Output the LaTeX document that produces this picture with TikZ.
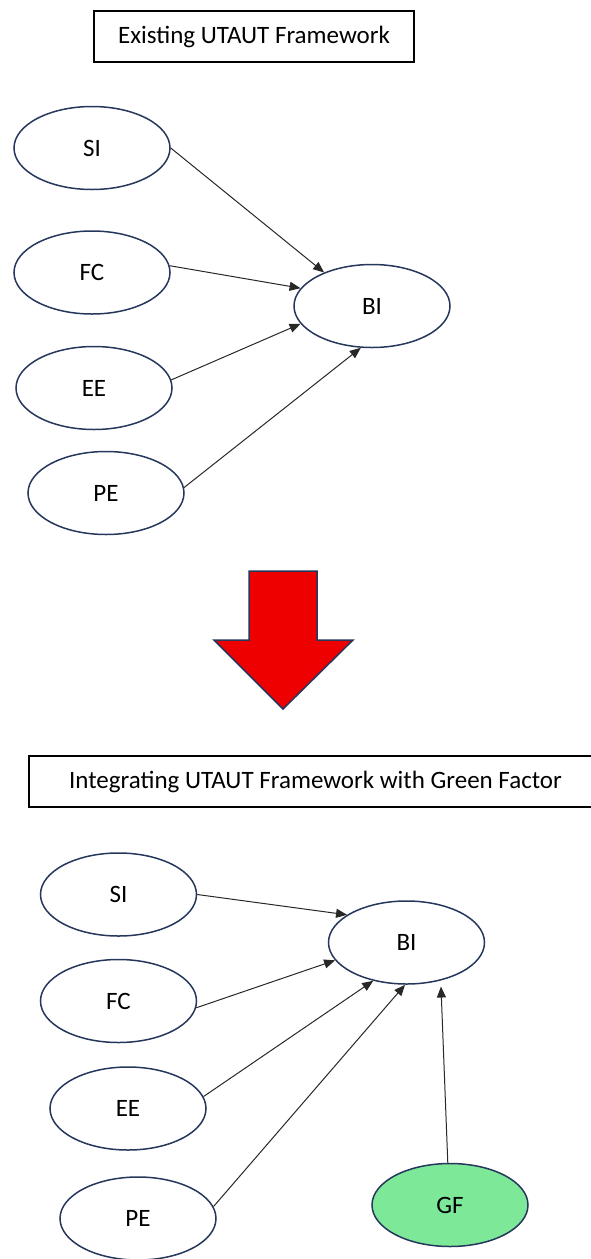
\documentclass[tikz,border=0pt]{standalone}
\usepackage{fontspec}
\setmainfont{Carlito}
\usepackage{tikz}
\usetikzlibrary{positioning,arrows.meta,shapes.geometric}
\definecolor{borde}{RGB}{38,55,92}
\definecolor{rojo}{RGB}{238,0,0}
\definecolor{verde}{RGB}{125,232,152}
\definecolor{linea}{RGB}{40,40,40}

\begin{document}
\begin{tikzpicture}[
  x=0.5pt, y=-0.5pt,
  font=\fontsize{12.5}{15}\selectfont,
  constructo/.style={ellipse, draw=borde, line width=0.75pt, fill=white,
                     minimum width=78pt, minimum height=41.5pt, inner sep=0pt},
  titulo/.style={draw=black, line width=1pt, minimum height=25.5pt,
                 inner sep=0pt},
  flecha/.style={draw=linea, line width=0.5pt,
                 -{Triangle[length=5.5pt,width=4.5pt]}},
]
\useasboundingbox (0,0) rectangle (590,1259);
% ---- Modelo UTAUT existente -------------------------------------------
\node[titulo, minimum width=160pt] (tit1) at (254,36.5)
  {Existing UTAUT Framework};
\node[constructo] (si1) at (92,148) {SI};
\node[constructo] (fc1) at (92,272.5) {FC};
\node[constructo] (ee1) at (94,388) {EE};
\node[constructo] (pe1) at (106,493) {PE};
\node[constructo] (bi1) at (372,306) {BI};
\draw[flecha] (si1.east) -- (bi1.145);
\draw[flecha] (fc1.5) -- (bi1.166);
\draw[flecha] (ee1.6) -- (bi1.194);
\draw[flecha] (pe1.4) -- (bi1.255);
% ---- Flecha roja ---------------------------------------------------------
\draw[draw=borde, line width=0.75pt, fill=rojo, line join=miter]
  (249,571) -- (317,571) -- (317,640) -- (353,640) -- (283,709)
  -- (214,640) -- (249,640) -- cycle;
% ---- Modelo integrado con factor verde -----------------------------------
\node[titulo, minimum width=287pt] (tit2) at (315.5,781.5)
  {Integrating UTAUT Framework with Green Factor};
\node[constructo] (si2) at (118.5,894.5) {SI};
\node[constructo] (fc2) at (118.5,1001) {FC};
\node[constructo] (ee2) at (128,1108.5) {EE};
\node[constructo] (pe2) at (138,1218.5) {PE};
\node[constructo] (bi2) at (406.5,942.5) {BI};
\node[constructo, fill=verde] (gf) at (450,1205) {GF};
\draw[flecha] (si2.east) -- (bi2.155);
\draw[flecha] (fc2.-5) -- (bi2.194);
\draw[flecha] (ee2.9) -- (bi2.229);
\draw[flecha] (pe2.9) -- (bi2.268);
\draw[flecha, shorten >=3pt] (gf.93) -- (bi2.312);
\end{tikzpicture}
\end{document}
